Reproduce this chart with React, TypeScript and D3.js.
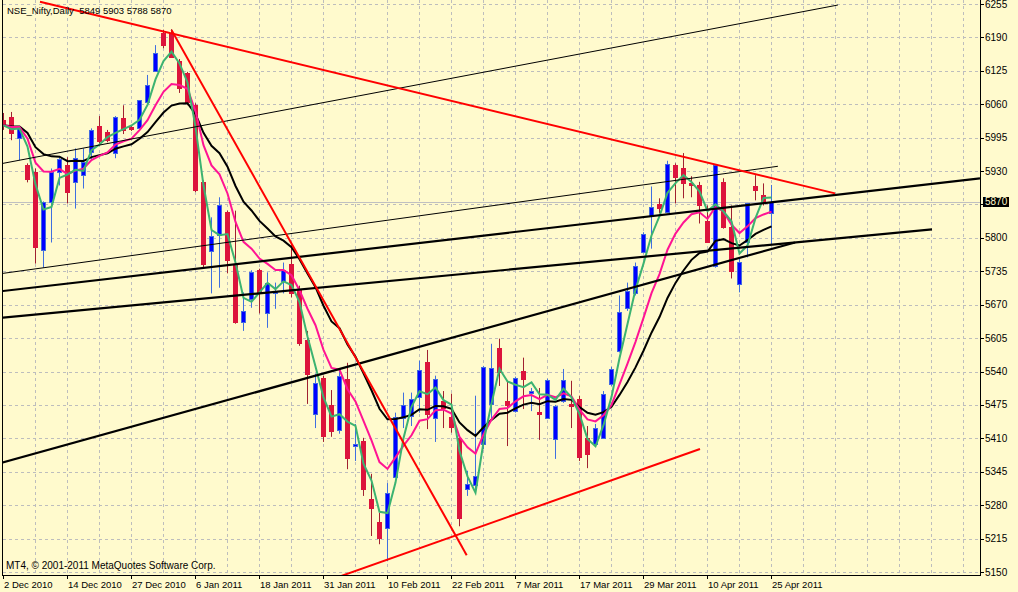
import React, { useEffect } from 'react';
import * as d3 from 'd3';

const title = 'NSE_Nifty,Daily  5849 5903 5788 5870';
const footer = 'MT4, © 2001-2011 MetaQuotes Software Corp.';
const lastPrice = 5870;

const opens = [6029, 6035, 5994, 5941, 5928, 5777, 5869, 5928, 5941, 5908, 5922, 5967, 6017, 6006, 5965, 6033, 6015, 6013, 6064, 6125, 6199, 6199, 6145, 6121, 6058, 5908, 5775, 5805, 5851, 5748, 5637, 5682, 5737, 5653, 5692, 5717, 5750, 5699, 5602, 5458, 5528, 5475, 5426, 5526, 5395, 5405, 5292, 5247, 5235, 5335, 5450, 5454, 5491, 5559, 5450, 5483, 5452, 5411, 5311, 5319, 5399, 5477, 5586, 5483, 5463, 5541, 5499, 5461, 5450, 5409, 5483, 5477, 5487, 5411, 5399, 5411, 5516, 5580, 5664, 5692, 5772, 5842, 5865, 5850, 5941, 5935, 5906, 5902, 5833, 5746, 5909, 5821, 5711, 5792, 5900, 5883, 5849];
const highs = [6043, 6045, 6017, 5945, 5935, 5871, 5935, 5957, 5957, 5974, 5974, 6013, 6037, 6010, 6037, 6058, 6019, 6068, 6117, 6175, 6205, 6206, 6148, 6123, 6062, 5912, 5840, 5879, 5853, 5853, 5694, 5737, 5740, 5733, 5713, 5752, 5789, 5707, 5619, 5536, 5532, 5504, 5541, 5557, 5438, 5411, 5341, 5265, 5323, 5460, 5499, 5499, 5561, 5582, 5532, 5502, 5497, 5415, 5347, 5493, 5551, 5594, 5604, 5522, 5530, 5567, 5508, 5508, 5526, 5475, 5545, 5522, 5493, 5434, 5438, 5502, 5549, 5688, 5713, 5752, 5811, 5900, 5877, 5950, 5945, 5965, 5920, 5909, 5863, 5941, 5916, 5863, 5762, 5868, 5922, 5906, 5903];
const lows = [6010, 5990, 5951, 5908, 5750, 5742, 5791, 5902, 5867, 5857, 5896, 5951, 5982, 5986, 5955, 6002, 6008, 6010, 6062, 6123, 6169, 6150, 6082, 6058, 5889, 5742, 5692, 5703, 5731, 5633, 5619, 5664, 5653, 5625, 5662, 5692, 5684, 5590, 5477, 5430, 5403, 5413, 5419, 5350, 5366, 5298, 5220, 5204, 5171, 5333, 5430, 5434, 5460, 5428, 5403, 5430, 5421, 5239, 5298, 5302, 5389, 5444, 5512, 5395, 5460, 5467, 5463, 5407, 5448, 5370, 5479, 5430, 5366, 5352, 5395, 5409, 5512, 5577, 5658, 5688, 5770, 5779, 5848, 5848, 5867, 5877, 5879, 5828, 5792, 5742, 5818, 5721, 5694, 5762, 5873, 5863, 5788];
const closes = [6019, 6004, 6015, 5914, 5783, 5869, 5928, 5953, 5889, 5955, 5947, 6010, 5988, 5990, 6035, 6010, 6011, 6068, 6097, 6160, 6175, 6152, 6091, 6064, 5893, 5750, 5803, 5863, 5756, 5637, 5657, 5733, 5692, 5713, 5696, 5737, 5692, 5596, 5536, 5518, 5415, 5424, 5532, 5372, 5399, 5311, 5274, 5216, 5304, 5452, 5475, 5487, 5543, 5458, 5526, 5469, 5432, 5255, 5321, 5337, 5549, 5547, 5540, 5475, 5528, 5526, 5503, 5458, 5524, 5473, 5524, 5473, 5374, 5380, 5430, 5497, 5545, 5655, 5697, 5746, 5807, 5861, 5859, 5943, 5918, 5906, 5902, 5863, 5792, 5941, 5821, 5735, 5753, 5868, 5894, 5871, 5870];

const xTickIndex = [0, 8, 16, 24, 32, 40, 48, 56, 64, 72, 80, 88, 96];
const xTickLabels = ['2 Dec 2010', '14 Dec 2010', '27 Dec 2010', '6 Jan 2011', '18 Jan 2011', '31 Jan 2011', '10 Feb 2011', '22 Feb 2011', '7 Mar 2011', '17 Mar 2011', '29 Mar 2011', '10 Apr 2011', '25 Apr 2011'];
const yTicks = [6255, 6190, 6125, 6060, 5995, 5930, 5865, 5800, 5735, 5670, 5605, 5540, 5475, 5410, 5345, 5280, 5215, 5150];

// moving average periods
const maGreenPeriod = 3; // simple
const maPinkPeriod = 8; // exponential
const maBlackPeriod = 15; // exponential

// trend lines: [barIndex, price] pairs
const redLines: number[][][] = [
  [[4.56, 6259.5], [103.94, 5886.6]],
  [[21, 6204.5], [57.9, 5182.7]],
  [[41.44, 5138], [87.06, 5389.4]],
];
const thinBlackLines: number[][][] = [
  [[-0.2, 5944.6], [104.3, 6253]],
  [[-0.2, 5730.7], [96.8, 5939.3]],
];
const thickBlackLines: number[][][] = [
  [[-0.2, 5696.4], [122.06, 5915.9]],
  [[-0.2, 5644.6], [116.06, 5816.5]],
  [[-0.2, 5362.5], [98.94, 5791.1]],
];

const W = 1018;
const H = 592;
const BG = '#FFFACD';
const plotLeft = 2;
const plotRight = 980;
const plotBottom = 575;
const FONT = 'Liberation Sans, Arial, sans-serif';

function sma(values: number[], period: number): number[] {
  return values.map((_, i) => {
    const s = Math.max(0, i - period + 1);
    return d3.mean(values.slice(s, i + 1)) as number;
  });
}

function ema(values: number[], period: number): number[] {
  const a = 2 / (period + 1);
  const out: number[] = [];
  values.forEach((v, i) => {
    out.push(i === 0 ? v : out[i - 1] + a * (v - out[i - 1]));
  });
  return out;
}

export default function App() {
  useEffect(() => {
    document.body.style.margin = '0';
    document.body.style.background = BG;
    document.body.style.overflow = 'hidden';
  }, []);

  const x = d3.scaleLinear().domain([0, 96]).range([3.5, 771.5]);
  const y = d3.scaleLinear().domain([5150, 6255]).range([572, 4]);
  const idx = d3.range(closes.length);

  const maPath = (vals: number[]) =>
    d3
      .line<number>()
      .x((_, i) => x(i))
      .y((v) => y(v))(vals) as string;

  const green = sma(closes, maGreenPeriod);
  const pink = ema(closes, maPinkPeriod);
  const black = ema(closes, maBlackPeriod);

  const seg = (l: number[][]) => ({ x1: x(l[0][0]), y1: y(l[0][1]), x2: x(l[1][0]), y2: y(l[1][1]) });

  const gridV = d3.range(4, 122, 4).map((i) => Math.floor(x(i)) + 0.5);

  return (
    <svg width={W} height={H} style={{ position: 'absolute', left: 0, top: 0, background: BG }}>
      <defs>
        <clipPath id="plot">
          <rect x={plotLeft + 1} y={0} width={plotRight - plotLeft - 1} height={plotBottom} />
        </clipPath>
      </defs>
      <rect x={0} y={0} width={W} height={H} fill={BG} />
      {/* grid */}
      <g stroke="#BDBDBD" strokeDasharray="3,3" strokeWidth={1}>
        {yTicks.map((t) => (
          <line key={'h' + t} x1={3} x2={plotRight} y1={Math.round(y(t)) + 0.5} y2={Math.round(y(t)) + 0.5} />
        ))}
        {gridV.map((gx) => (
          <line key={'v' + gx} x1={gx} x2={gx} y1={0} y2={plotBottom} />
        ))}
      </g>
      {/* current price line */}
      <line x1={3} x2={plotRight} y1={Math.round(y(lastPrice)) + 0.5} y2={Math.round(y(lastPrice)) + 0.5} stroke="#C0C0C0" strokeWidth={1} />
      <g clipPath="url(#plot)">
        {/* candles */}
        {idx.map((i) => {
          const o = opens[i];
          const c = closes[i];
          const bull = c >= o;
          const cx = Math.floor(x(i)) + 0.5;
          const top = Math.round(y(Math.max(o, c)));
          const bot = Math.round(y(Math.min(o, c)));
          const h = Math.max(bot - top, 1);
          return (
            <g key={'c' + i}>
              <line x1={cx} x2={cx} y1={y(highs[i])} y2={y(lows[i])} stroke={bull ? '#3F6FE0' : '#A02030'} strokeWidth={1} />
              <rect
                x={cx - 2}
                y={top + 0.5}
                width={4}
                height={h}
                fill={bull ? '#0000FF' : '#DC143C'}
                stroke={bull ? '#4169E1' : '#DC143C'}
                strokeWidth={1}
              />
            </g>
          );
        })}
        {/* moving averages */}
        <path d={maPath(black)} fill="none" stroke="#000" strokeWidth={2} />
        <path d={maPath(pink)} fill="none" stroke="#FF1493" strokeWidth={2} />
        <path d={maPath(green)} fill="none" stroke="#3CB371" strokeWidth={2} />
        {/* trend lines */}
        {thinBlackLines.map((l, k) => (
          <line key={'tb' + k} {...seg(l)} stroke="#000" strokeWidth={1} />
        ))}
        {thickBlackLines.map((l, k) => (
          <line key={'kb' + k} {...seg(l)} stroke="#000" strokeWidth={2.2} />
        ))}
        {redLines.map((l, k) => (
          <line key={'r' + k} {...seg(l)} stroke="#FF0000" strokeWidth={2} />
        ))}
      </g>
      {/* frame */}
      <line x1={plotLeft + 0.5} x2={plotLeft + 0.5} y1={0} y2={plotBottom + 1} stroke="#000" />
      <line x1={plotLeft} x2={plotRight + 1} y1={plotBottom + 0.5} y2={plotBottom + 0.5} stroke="#000" />
      <line x1={plotRight + 0.5} x2={plotRight + 0.5} y1={0} y2={plotBottom + 1} stroke="#000" />
      {/* y axis */}
      {yTicks.map((t) => (
        <g key={'yt' + t}>
          <line x1={plotRight} x2={plotRight + 4} y1={Math.round(y(t)) + 0.5} y2={Math.round(y(t)) + 0.5} stroke="#000" />
          {t !== 5865 && (
            <text x={985} y={y(t) + 3.5} fontFamily={FONT} fontSize={10} fill="#000">
              {t}
            </text>
          )}
        </g>
      ))}
      <rect x={983} y={Math.round(y(lastPrice)) - 5} width={26} height={10} fill="#000" />
      <text x={985} y={y(lastPrice) + 3.5} fontFamily={FONT} fontSize={10} fill={BG}>
        {lastPrice}
      </text>
      {/* x axis */}
      {xTickIndex.map((i, k) => (
        <g key={'xt' + i}>
          <line x1={Math.floor(x(i)) + 0.5} x2={Math.floor(x(i)) + 0.5} y1={plotBottom} y2={plotBottom + 4} stroke="#000" />
          <text x={Math.floor(x(i)) + 1} y={588} fontFamily={FONT} fontSize={9.5} fill="#000">
            {xTickLabels[k]}
          </text>
        </g>
      ))}
      <text x={7} y={14} fontFamily={FONT} fontSize={9.5} fill="#000" style={{ whiteSpace: 'pre' }}>
        {title}
      </text>
      <text x={6} y={569} fontFamily={FONT} fontSize={10} fill="#000">
        {footer}
      </text>
    </svg>
  );
}
